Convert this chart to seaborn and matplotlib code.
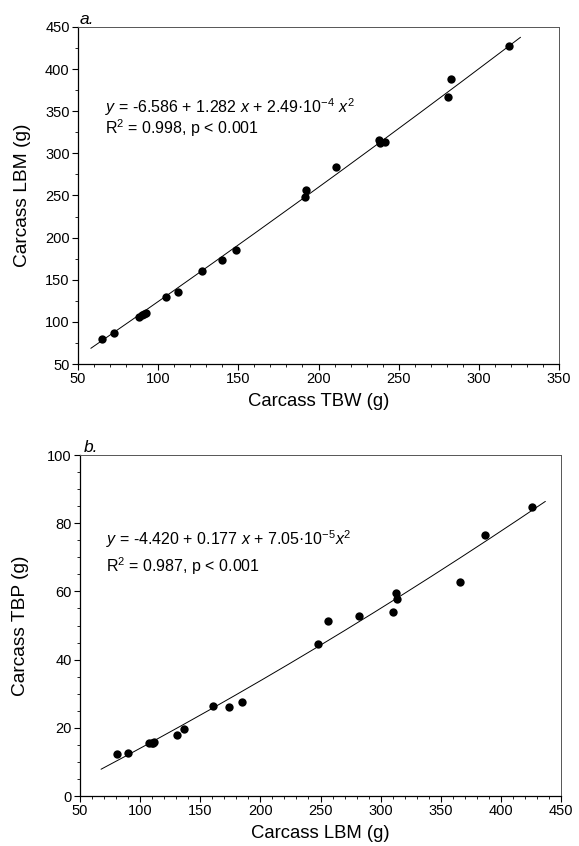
import numpy as np
import pandas as pd
import matplotlib
matplotlib.use("Agg")
import matplotlib.pyplot as plt
import seaborn as sns
from matplotlib.ticker import MultipleLocator

# ---- Data: panel a (TBW vs LBM) ----
tbw_a = [64.8, 72.5, 88.3, 89.7, 91.2, 92.4, 104.9, 112.2, 127.2, 139.6, 148.6,
         191.6, 192.0, 211.0, 237.6, 238.4, 241.7, 281.0, 282.5, 319.1]
lbm_a = [79.3, 87.2, 106.2, 108.2, 109.7, 110.9, 129.2, 135.1, 160.7, 173.4, 185.0,
         247.9, 256.5, 283.5, 315.9, 312.0, 313.5, 366.6, 388.6, 427.4]
coef_a = [-6.586, 1.282, 2.49e-4]      # intercept, linear, quadratic
fit_range_a = [58, 326]

# ---- Data: panel b (LBM vs TBP) ----
lbm_b = [81.0, 89.6, 107.7, 109.6, 110.5, 111.8, 130.7, 136.2, 160.3, 173.9, 184.7,
         247.6, 256.5, 281.8, 310.6, 312.5, 313.3, 366.0, 387.1, 425.9]
tbp_b = [12.3, 12.7, 15.5, 15.6, 15.6, 15.8, 17.8, 19.7, 26.4, 26.0, 27.7,
         44.6, 51.2, 52.8, 54.0, 59.6, 57.8, 62.8, 76.5, 84.8]
coef_b = [-4.420, 0.177, 7.05e-5]
fit_range_b = [67.5, 437]

eq_a = r"$\mathit{y}$ = -6.586 + 1.282 $\mathit{x}$ + 2.49·10$^{\mathrm{-4}}$ $\mathit{x}^{\mathrm{2}}$"
r2_a = r"R$^{\mathrm{2}}$ = 0.998, p < 0.001"
eq_b = r"$\mathit{y}$ = -4.420 + 0.177 $\mathit{x}$ + 7.05·10$^{\mathrm{-5}}$$\mathit{x}^{\mathrm{2}}$"
r2_b = r"R$^{\mathrm{2}}$ = 0.987, p < 0.001"

sns.set_theme(style="ticks")
plt.rcParams["font.family"] = ["Liberation Sans", "DejaVu Sans"]
plt.rcParams["mathtext.fontset"] = "custom"
plt.rcParams["mathtext.rm"] = "Liberation Sans"
plt.rcParams["mathtext.it"] = "Liberation Sans:italic"
plt.rcParams["text.color"] = "black"
plt.rcParams["axes.labelcolor"] = "black"
plt.rcParams["xtick.color"] = "black"
plt.rcParams["ytick.color"] = "black"

fig = plt.figure(figsize=(5.79, 8.46), dpi=100)
ax_a = fig.add_axes([78/579, 1-364/846, (559-78)/579, (364-27)/846])
ax_b = fig.add_axes([80/579, 1-796/846, (561-80)/579, (796-455)/846])


def fit_df(coef, rng):
    xs = np.linspace(rng[0], rng[1], 200)
    ys = coef[0] + coef[1]*xs + coef[2]*xs**2
    return pd.DataFrame({"x": xs, "y": ys})


def style(ax, xlim, ylim, xmaj, xmin, ymaj, ymin):
    ax.set_xlim(*xlim)
    ax.set_ylim(*ylim)
    ax.xaxis.set_major_locator(MultipleLocator(xmaj))
    ax.xaxis.set_minor_locator(MultipleLocator(xmin))
    ax.yaxis.set_major_locator(MultipleLocator(ymaj))
    ax.yaxis.set_minor_locator(MultipleLocator(ymin))
    ax.tick_params(axis="both", which="major", length=4, width=0.8,
                   labelsize=10.5, colors="black", pad=2, direction="out")
    ax.tick_params(axis="both", which="minor", length=2.5, width=0.6,
                   direction="out", colors="black")
    ax.tick_params(axis="x", which="both", top=False)
    ax.tick_params(axis="y", which="both", right=False)
    for s in ["left", "bottom"]:
        ax.spines[s].set_color("black")
        ax.spines[s].set_linewidth(0.9)
    for s in ["top", "right"]:
        ax.spines[s].set_visible(True)
        ax.spines[s].set_color("#555555")
        ax.spines[s].set_linewidth(0.7)


# Panel a
dfa = pd.DataFrame({"TBW": tbw_a, "LBM": lbm_a})
sns.lineplot(data=fit_df(coef_a, fit_range_a), x="x", y="y", ax=ax_a,
             color="black", linewidth=0.7)
sns.scatterplot(data=dfa, x="TBW", y="LBM", ax=ax_a, color="black",
                s=36, edgecolor="black", linewidth=0, zorder=3)
style(ax_a, (50, 350), (50, 450), 50, 10, 50, 25)
ax_a.set_xlabel("Carcass TBW (g)", fontsize=13.3, labelpad=5)
ax_a.set_ylabel("Carcass LBM (g)", fontsize=13.8, labelpad=10)
ax_a.text(0.057, 0.745, eq_a, transform=ax_a.transAxes, fontsize=11.5)
ax_a.text(0.057, 0.683, r2_a, transform=ax_a.transAxes, fontsize=11.5)
ax_a.text(0.003, 1.008, "a.", transform=ax_a.transAxes, fontsize=12.5,
          style="italic")

# Panel b
dfb = pd.DataFrame({"LBM": lbm_b, "TBP": tbp_b})
sns.lineplot(data=fit_df(coef_b, fit_range_b), x="x", y="y", ax=ax_b,
             color="black", linewidth=0.7)
sns.scatterplot(data=dfb, x="LBM", y="TBP", ax=ax_b, color="black",
                s=36, edgecolor="black", linewidth=0, zorder=3)
style(ax_b, (50, 450), (0, 100), 50, 10, 20, 5)
ax_b.set_xlabel("Carcass LBM (g)", fontsize=13.3, labelpad=5)
ax_b.set_ylabel("Carcass TBP (g)", fontsize=13.8, labelpad=13)
ax_b.text(0.055, 0.736, eq_b, transform=ax_b.transAxes, fontsize=11.5)
ax_b.text(0.055, 0.657, r2_b, transform=ax_b.transAxes, fontsize=11.5)
ax_b.text(0.008, 1.008, "b.", transform=ax_b.transAxes, fontsize=12.5,
          style="italic")

fig.savefig("out.png", dpi=100)
